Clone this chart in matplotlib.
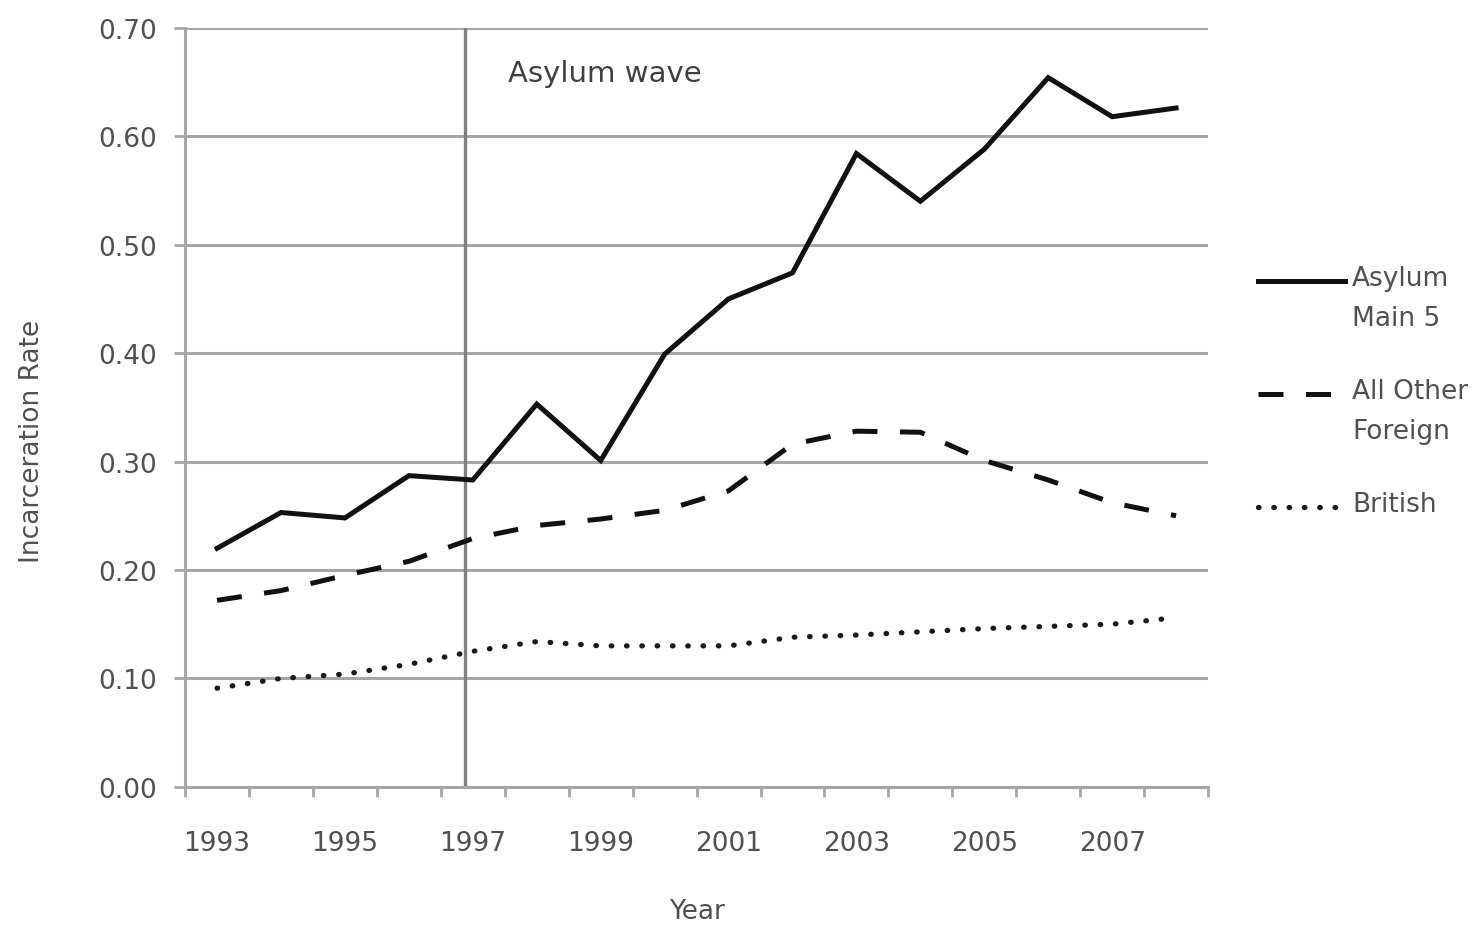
import numpy as np
import matplotlib.pyplot as plt

years = list(range(1993, 2009))
asylum_main5 = [0.220, 0.253, 0.248, 0.287, 0.283, 0.353, 0.301, 0.399,
                0.450, 0.474, 0.584, 0.540, 0.588, 0.654, 0.618, 0.626]
other_foreign = [0.172, 0.181, 0.195, 0.208, 0.229, 0.241, 0.247, 0.255,
                 0.273, 0.316, 0.328, 0.327, 0.301, 0.283, 0.262, 0.250]
british = [0.091, 0.100, 0.104, 0.113, 0.125, 0.134, 0.130, 0.130,
           0.130, 0.138, 0.140, 0.143, 0.146, 0.148, 0.150, 0.156]
labels = ['Asylum\nMain 5', 'All Other\nForeign', 'British']
y_ticks = [0.0, 0.1, 0.2, 0.3, 0.4, 0.5, 0.6, 0.7]
x_labels = [1993, 1995, 1997, 1999, 2001, 2003, 2005, 2007]
wave_year = 1996.88

grid_col = '#a6a6a6'
text_col = '#505050'
plt.rcParams['font.family'] = 'DejaVu Sans'

fig = plt.figure(figsize=(14.81, 9.28), dpi=100)
ax = fig.add_axes([0.125, 0.151, 0.6907, 0.818])

# Gridlines and wave marker
ax.set_yticks(y_ticks)
ax.yaxis.grid(True, color=grid_col, linewidth=2.2)
ax.set_axisbelow(True)
ax.axvline(wave_year, color='#7f7f7f', linewidth=2.4, zorder=1)

# Series
solid_st = dict(color='#111111', linewidth=3.6, solid_joinstyle='miter')
dash_st = dict(color='#111111', linewidth=3.6, linestyle=(0, (5, 4.5)))
dot_st = dict(color='#1a1a1a', linewidth=3.8, linestyle=(0, (0.1, 2.8)),
              dash_capstyle='round')
ax.plot(years, asylum_main5, **solid_st)
ax.plot(years, other_foreign, **dash_st)
ax.plot(years, british, **dot_st)

ax.set_xlim(1992.5, 2008.5)
ax.set_ylim(0, 0.7)

# Axes styling
for s in ['top', 'right']:
    ax.spines[s].set_visible(False)
for s in ['left', 'bottom']:
    ax.spines[s].set_color(grid_col)
    ax.spines[s].set_linewidth(2.2)

ax.set_yticklabels([f'{v:.2f}' for v in y_ticks], fontsize=19, color=text_col)
ax.tick_params(axis='y', length=8, width=2, color=grid_col, pad=12)

ax.set_xticks(np.arange(1992.5, 2009, 1.0))
ax.set_xticklabels([])
ax.set_xticks(x_labels, minor=True)
ax.set_xticklabels([str(x) for x in x_labels], minor=True, fontsize=19, color=text_col)
ax.tick_params(axis='x', which='major', length=7, width=2, color=grid_col)
ax.tick_params(axis='x', which='minor', length=0, pad=31)

ax.set_xlabel('Year', fontsize=19, color=text_col, labelpad=30)
ax.set_ylabel('Incarceration Rate', fontsize=19, color=text_col)
ax.yaxis.set_label_coords(-0.137, 0.457)

ax.text(1997.55, 0.658, 'Asylum wave', fontsize=21, color='#404040', va='center')

# Legend drawn beside the plot, handle level with the first text line
leg_y = [0.667, 0.518, 0.369]
for lab, st, yy in zip(labels, [solid_st, dash_st, dot_st], leg_y):
    ax.plot([1.049, 1.134], [yy, yy], transform=ax.transAxes, clip_on=False, **st)
    ax.text(1.141, yy + 0.021, lab, transform=ax.transAxes, fontsize=19, color=text_col,
            va='top', linespacing=1.7)

plt.savefig('out.png', dpi=100)
